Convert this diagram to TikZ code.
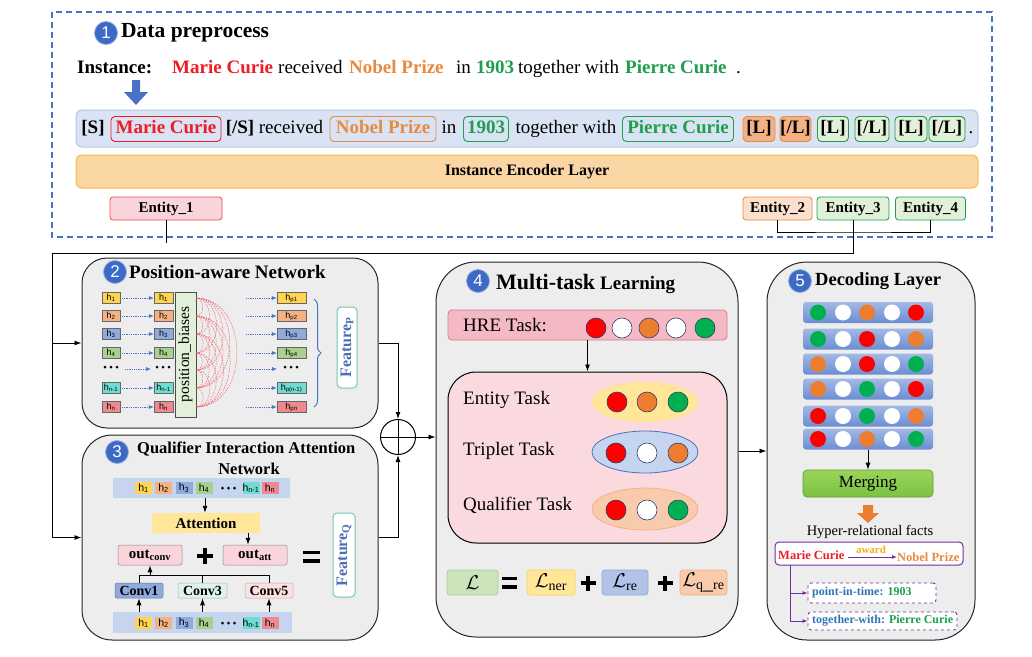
\RequirePackage{fix-cm}
\documentclass[tikz,border=0pt]{standalone}
\usepackage{fontspec}
\setmainfont{Liberation Serif}
\newfontfamily\hsans{Liberation Sans}
\usetikzlibrary{arrows.meta,decorations.pathreplacing,shapes.geometric,calc}

\definecolor{dashblue}{HTML}{4A72C4}
\definecolor{numblue}{HTML}{3D6AC4}
\definecolor{mred}{HTML}{EE1C25}
\definecolor{morange}{HTML}{E98A3F}
\definecolor{mgreen}{HTML}{1E9F4E}
\definecolor{rowbg}{HTML}{DAE3F3}
\definecolor{rowbd}{HTML}{B4C7E7}
\definecolor{encfill}{HTML}{FAD6A5}
\definecolor{encbd}{HTML}{F2BF4A}
\definecolor{boxgray}{HTML}{EDEDED}
\definecolor{cyel}{HTML}{FFD54F}
\definecolor{corg}{HTML}{F4B183}
\definecolor{cblu}{HTML}{8FAADC}
\definecolor{cgrn}{HTML}{A9D18E}
\definecolor{ctea}{HTML}{70DDD2}
\definecolor{cpnk}{HTML}{EE8A8E}
\definecolor{lgreen}{HTML}{E2F0D9}
\definecolor{lorange}{HTML}{F8CBAD}
\definecolor{lpink}{HTML}{F9D5DB}
\definecolor{lblue}{HTML}{C5D5EF}
\definecolor{lyellow}{HTML}{FFE699}
\definecolor{featbd}{HTML}{72C7AE}
\definecolor{featblue}{HTML}{4E6FB5}
\definecolor{dR}{HTML}{FF0000}
\definecolor{dO}{HTML}{ED7D31}
\definecolor{dG}{HTML}{00B050}
\definecolor{dnavy}{HTML}{2F3C6B}
\definecolor{mpurple}{HTML}{7030A0}
\definecolor{tblue}{HTML}{2E75B6}
\definecolor{mgold}{HTML}{F2B01E}
\definecolor{barL}{HTML}{A3B9E6}
\definecolor{barD}{HTML}{6A8DD2}
\definecolor{hrefill}{HTML}{F4B9C4}
\definecolor{hrebd}{HTML}{C87F8C}
\definecolor{innfill}{HTML}{FADADF}
\definecolor{cv3fill}{HTML}{DDF3EF}
\definecolor{cv5fill}{HTML}{FBE1E1}
\definecolor{mgL}{HTML}{9AD45A}
\definecolor{mgD}{HTML}{7CC242}

\tikzset{
  conn/.style={draw=black, line width=0.9pt},
  arr/.style={conn, -{Latex[length=7pt,width=5pt]}},
  numc/.style={circle, fill=numblue, draw=numblue!55!white, line width=0.8pt, minimum size=23pt, inner sep=0pt, text=white, font=\hsans\fontsize{17}{17}\selectfont},
  ttl/.style={anchor=west, inner sep=0pt, font=\bfseries\fontsize{19}{19}\selectfont},
  wrd/.style={inner sep=0pt, text height=13pt, text depth=4pt, font=\fontsize{19}{19}\selectfont},
  swrd/.style={anchor=base west, inner sep=0pt, font=\fontsize{19}{19}\selectfont},
  tok/.style={wrd, draw, rounded corners=4pt, line width=0.9pt, minimum height=25pt, font=\bfseries\fontsize{19}{19}\selectfont},
  ent/.style={draw, rounded corners=3pt, line width=0.8pt, minimum height=23pt, inner sep=0pt, font=\bfseries\fontsize{15}{15}\selectfont},
  bigbox/.style={draw=black!85, line width=1pt, fill=boxgray, inner sep=0pt},
  hc/.style={draw=black!60, line width=0.4pt, minimum height=11pt, inner sep=0pt, font=\hsans\fontsize{9}{9}\selectfont},
  dotarr/.style={draw=dashblue, line width=0.7pt, dash pattern=on 0.9pt off 0.9pt, -{Latex[length=5pt,width=4pt]}},
  arcst/.style={draw=mred!75, line width=0.4pt, dash pattern=on 1.5pt off 1pt},
  qc/.style={minimum height=12pt, minimum width=17pt, inner sep=0pt, font=\hsans\fontsize{10.5}{10.5}\selectfont},
  smbox/.style={draw=black!45, line width=0.5pt, rounded corners=2pt, inner sep=0pt, font=\bfseries\fontsize{15}{15}\selectfont},
  feat/.style={draw=featbd, line width=1pt, rounded corners=4pt, fill=white, inner sep=0pt},
  feattxt/.style={rotate=90, inner sep=0pt, text=featblue, font=\bfseries\fontsize{16}{16}\selectfont},
  mdot/.style={circle, draw=dnavy, line width=0.6pt, minimum size=20pt, inner sep=0pt},
  ddot/.style={circle, draw=none, minimum size=16pt, inner sep=0pt},
  taskt/.style={anchor=west, inner sep=0pt, font=\fontsize{19}{19}\selectfont},
  lossb/.style={rounded corners=3pt, line width=0.8pt, minimum height=25pt, inner sep=0pt, font=\fontsize{20}{20}\selectfont},
  heavy/.style={draw=black, line width=4pt},
  parr/.style={draw=mpurple, line width=0.9pt, -{Latex[length=5pt,width=4pt]}},
  decbar/.style={rounded corners=3pt, minimum width=130pt, minimum height=21pt, inner sep=0pt, top color=barL, bottom color=barD, draw=none},
}

\newcommand\decrow[7]{%
  \node[decbar] (r#1) at (868,#2) {};
  \node[ddot, fill=#3] (r#1a) at (818,#2) {};
  \node[ddot, fill=#4] (r#1b) at (843,#2) {};
  \node[ddot, fill=#5] (r#1c) at (867,#2) {};
  \node[ddot, fill=#6] (r#1d) at (892,#2) {};
  \node[ddot, fill=#7] (r#1e) at (916,#2) {};
}
\newcommand\tdots[2]{%
  \foreach \dx in {-6,0,6}{\fill[black] (#1+\dx,#2) circle[radius=1.5pt];}%
}

\begin{document}
\begin{tikzpicture}[x=1pt,y=-1pt]
\useasboundingbox (0,0) rectangle (1032,656);
\fill[white] (0,0) rectangle (1032,656);

% ---------------- Stage 1 ----------------
\draw[dashblue, line width=1.3pt, dash pattern=on 6pt off 4pt] (52,12) rectangle (992,237);
\node[numc] (n1) at (106,33) {1};
\node[ttl, font=\bfseries\fontsize{21.5}{21.5}\selectfont] (t1) at (121,33) {Data preprocess};

\node[swrd, font=\bfseries\fontsize{19}{19}\selectfont] (ins) at (77,73) {Instance:};
\node[swrd, font=\bfseries\fontsize{19}{19}\selectfont, text=mred] (s1) at (172,73) {Marie Curie};
\node[swrd] (s2) at (278,73) {received};
\node[swrd, font=\bfseries\fontsize{19}{19}\selectfont, text=morange] (s3) at (349,73) {Nobel Prize};
\node[swrd] (s4) at (456,73) {in};
\node[swrd, font=\bfseries\fontsize{19}{19}\selectfont, text=mgreen] (s5) at (476,73) {1903};
\node[swrd] (s6) at (518,73) {together with};
\node[swrd, font=\bfseries\fontsize{19}{19}\selectfont, text=mgreen] (s7) at (625,73) {Pierre Curie};
\node[swrd] (s8) at (736,73) {.};

\fill[dashblue] (132,80) -- (140,80) -- (140,92) -- (148,92) -- (136,105) -- (124,92) -- (132,92) -- cycle;

\node[draw=rowbd, fill=rowbg, line width=1pt, rounded corners=6pt, minimum width=902pt, minimum height=37pt, inner sep=0pt] (row) at (527,128.5) {};
\node[wrd, font=\bfseries\fontsize{19}{19}\selectfont] (k1) at (93,129) {[S]};
\node[tok, draw=mred, text=mred, minimum width=110pt] (k2) at (166,129) {Marie Curie};
\node[wrd, font=\bfseries\fontsize{19}{19}\selectfont] (k3) at (240,129) {[/S]};
\node[wrd] (k4) at (291,129) {received};
\node[tok, draw=morange, text=morange, minimum width=106pt] (k5) at (383,129) {Nobel Prize};
\node[wrd] (k6) at (449,129) {in};
\node[tok, draw=mgreen, text=mgreen, minimum width=45pt] (k7) at (486,129) {1903};
\node[wrd] (k8) at (566,129) {together with};
\node[tok, draw=mgreen, text=mgreen, minimum width=111pt] (k9) at (678,129) {Pierre Curie};
\node[tok, draw=morange, fill=corg, minimum width=32pt] (k10) at (759,129) {[L]};
\node[tok, draw=morange, fill=corg, minimum width=31pt] (k11) at (795.5,129) {[/L]};
\node[tok, draw=mgreen, fill=lgreen, minimum width=31pt] (k12) at (833,129) {[L]};
\node[tok, draw=mgreen, fill=lgreen, minimum width=34pt] (k13) at (872,129) {[/L]};
\node[tok, draw=mgreen, fill=lgreen, minimum width=32pt] (k14) at (911,129) {[L]};
\node[tok, draw=mgreen, fill=lgreen, minimum width=36pt] (k15) at (947,129) {[/L]};
\node[wrd] (k16) at (971,129) {.};

\node[draw=encbd, fill=encfill, line width=1pt, rounded corners=6pt, minimum width=902pt, minimum height=33pt, inner sep=0pt, font=\bfseries\fontsize{16}{16}\selectfont] (enc) at (527,171.5) {Instance Encoder Layer};

\node[ent, fill=lpink, draw=mred!80, minimum width=112pt] (e1) at (166,208.5) {Entity\_1};
\node[ent, fill=lorange!60, draw=morange, minimum width=69pt] (e2) at (777.5,208.5) {Entity\_2};
\node[ent, fill=lgreen, draw=mgreen, minimum width=72pt] (e3) at (853,208.5) {Entity\_3};
\node[ent, fill=lgreen, draw=mgreen, minimum width=70pt] (e4) at (930.5,208.5) {Entity\_4};

\coordinate (e1end) at (166,243);
\coordinate (brk) at (853,232);
\coordinate (tl) at (52,253);
\draw[conn] (e1.south) -- (e1end);
\draw[conn] (e2.south) |- (brk) -| (e4.south);

% ---------------- big boxes ----------------
\node[bigbox, rounded corners=25pt, minimum width=296pt, minimum height=170pt] (b2) at (230,343) {};
\node[bigbox, rounded corners=30pt, minimum width=296pt, minimum height=205pt] (b3) at (230,537.5) {};
\node[bigbox, rounded corners=40pt, minimum width=302pt, minimum height=375pt] (b4) at (587,449.5) {};
\node[bigbox, rounded corners=40pt, minimum width=208pt, minimum height=378pt] (b5) at (871,451) {};

\draw[conn] (e3.south) -- (e3.south |- tl) -- (tl) -- (tl |- b3.west);
\draw[arr] (tl |- b2.west) -- (b2.west);
\draw[arr] (tl |- b3.west) -- (b3.west);

\node[circle, draw=black, line width=1pt, minimum size=35pt, inner sep=0pt] (op) at (398,437) {};
\draw[conn] (op.north) -- (op.south);
\draw[conn] (op.west) -- (op.east);
\draw[arr] (b2.east) -| (op.north);
\draw[arr] (b3.east) -| (op.south);
\draw[arr] (op.east) -- (op.east -| b4.west);
\draw[arr] (b4.east |- b5.west) -- (b5.west);

% ---------------- Stage 2 ----------------
\node[numc] (n2) at (115,272) {2};
\node[ttl] (t2) at (129,272) {Position-aware Network};

\node[draw=black!70, line width=0.5pt, fill=lgreen, minimum width=21pt, minimum height=125pt, inner sep=0pt] (pb) at (185.5,354.5) {};
\node[rotate=90, inner sep=0pt, font=\fontsize{15.5}{15.5}\selectfont] (pbt) at (pb.center) {position\_biases};

\foreach \ya [count=\i] in {298,316,334,353,370,388,407}{
  \foreach \yb [count=\j] in {298,316,334,353,370,388,407}{
    \ifnum\j>\i
      \pgfmathsetmacro\dd{0.5*(\yb-\ya)}
      \draw[arcst] (196,\ya) .. controls +(\dd,0) and +(\dd,0) .. (196,\yb);
    \fi
  }
}

\foreach \yy/\col/\lab/\labp [count=\i] in {298/cyel/1/p1, 316/corg/2/p2, 334/cblu/3/p3, 353/cgrn/4/p4, 388/ctea/{n-1}/{p(n-1)}, 407/cpnk/n/pn}{
  \node[hc, fill=\col, minimum width=18pt] (a\i) at (111,\yy) {h\textsubscript{\lab}};
  \node[hc, fill=\col, minimum width=19pt] (bb\i) at (163.5,\yy) {h\textsubscript{\lab}};
  \node[hc, fill=\col, minimum width=29pt] (c\i) at (291.5,\yy) {h\textsubscript{\labp}};
  \draw[dotarr] (a\i.east) -- (bb\i.west);
  \coordinate (s\i) at (246,\yy);
  \draw[dotarr] (s\i) -- (c\i.west);
}
\tdots{111}{367}
\tdots{163}{367}
\tdots{291}{367}
\coordinate (d1e) at (125,369);
\coordinate (d2w) at (151,369);
\coordinate (d3s) at (246,369);
\coordinate (d3w) at (277,369);
\draw[dotarr] (d1e) -- (d2w);
\draw[dotarr] (d3s) -- (d3w);

\draw[dashblue, line width=1pt, decorate, decoration={brace, amplitude=7pt}] (314,299) -- (314,407);
\node[feat, minimum width=20pt, minimum height=81pt] (fp) at (347,347.5) {};
\node[feattxt] (fpt) at (fp.center) {Feature\textsubscript{P}};

% ---------------- Stage 3 ----------------
\node[numc] (n3) at (117,452) {3};
\node[ttl, font=\bfseries\fontsize{16.5}{16.5}\selectfont] (t3) at (137,449) {Qualifier Interaction Attention};
\node[inner sep=0pt, font=\bfseries\fontsize{16.5}{16.5}\selectfont] (t3b) at (249,469) {Network};

\node[fill=lblue, minimum width=177pt, minimum height=20pt, inner sep=0pt] (qtop) at (201.5,488) {};
\node[fill=lblue, minimum width=179pt, minimum height=21pt, inner sep=0pt] (qbot) at (202,622.5) {};
\foreach \xx/\col/\lab [count=\i] in {143.5/cyel/1,163.5/corg/2,184/cblu/3,204/cgrn/4,251/ctea/{n-1},270/cpnk/n}{
  \node[qc, fill=\col] (qa\i) at (\xx,488) {h\textsubscript{\lab}};
  \node[qc, fill=\col] (qb\i) at (\xx,623) {h\textsubscript{\lab}};
}
\tdots{228.5}{488}
\tdots{228.5}{623}

\node[fill=lyellow, minimum width=108pt, minimum height=20pt, inner sep=0pt, font=\bfseries\fontsize{15}{15}\selectfont] (att) at (206,523) {Attention};
\coordinate (qx) at (205,0);
\draw[arr] (qtop.south -| qx) -- (att.north -| qx);
\node[smbox, fill=lpink, minimum width=64pt, minimum height=20pt] (oc) at (150,555) {out\textsubscript{conv}};
\node[smbox, fill=lpink, minimum width=64pt, minimum height=20pt] (oa) at (255,555) {out\textsubscript{att}};
\coordinate (attx) at (248,533);
\draw[arr] (attx) -- (attx |- oa.north);
\draw[heavy] (197,556) -- (213,556);
\draw[heavy] (205,548) -- (205,564);
\draw[draw=black, line width=3.3pt] (303,552.5) -- (320,552.5);
\draw[draw=black, line width=3.3pt] (303,561) -- (320,561);
\node[feat, minimum width=22pt, minimum height=84pt] (fq) at (344,555) {};
\node[feattxt] (fqt) at (fq.center) {Feature\textsubscript{Q}};

\node[smbox, fill=cblu, draw=cblu!70!black, minimum width=48pt, minimum height=15pt, font=\bfseries\fontsize{14}{14}\selectfont] (cv1) at (139,590.5) {Conv1};
\node[smbox, fill=cv3fill, draw=black!30, minimum width=49pt, minimum height=15pt, font=\bfseries\fontsize{14}{14}\selectfont] (cv3) at (202.5,590.5) {Conv3};
\node[smbox, fill=cv5fill, draw=black!30, minimum width=48pt, minimum height=15pt, font=\bfseries\fontsize{14}{14}\selectfont] (cv5) at (269,590.5) {Conv5};
\coordinate (qbus) at (0,575);
\draw[conn] (cv1.north) -- (cv1.north |- qbus) -- (cv5.north |- qbus) -- (cv5.north);
\draw[conn] (cv3.north) -- (cv3.north |- qbus);
\draw[arr] (oc.south |- qbus) -- (oc.south);
\draw[arr] (qbot.north -| cv1.south) -- (cv1.south);
\draw[arr] (qbot.north -| cv3.south) -- (cv3.south);
\draw[arr] (qbot.north -| cv5.south) -- (cv5.south);

% ---------------- Stage 4 ----------------
\node[numc] (n4) at (478,281) {4};
\node[anchor=base west, inner sep=0pt, font=\bfseries] (t4) at (496,289) {{\fontsize{22}{22}\selectfont Multi-task}\hspace{5pt}{\fontsize{19}{19}\selectfont Learning}};

\node[draw=hrebd, fill=hrefill, line width=0.8pt, rounded corners=4pt, minimum width=279pt, minimum height=30pt, inner sep=0pt] (hre) at (587.5,325) {};
\node[taskt] (hret) at (463,325) {HRE Task:};
\node[mdot, fill=dR] (h1) at (596,328) {};
\node[mdot, fill=white] (h2) at (622,328) {};
\node[mdot, fill=dO] (h3) at (649,328) {};
\node[mdot, fill=white] (h4) at (676,328) {};
\node[mdot, fill=dG] (h5) at (705,328) {};

\node[draw=black, fill=innfill, line width=1pt, rounded corners=28pt, minimum width=279pt, minimum height=171pt, inner sep=0pt] (inn) at (587.5,457.5) {};
\draw[arr] (hre.south) -- (hre.south |- inn.north);

\node[taskt] (tk1) at (463,400) {Entity Task};
\node[ellipse, fill=lyellow, minimum width=106pt, minimum height=40pt, inner sep=0pt] (el1) at (645,402) {};
\node[mdot, fill=dR] (el1a) at (617,402) {};
\node[mdot, fill=dO] (el1b) at (647,402) {};
\node[mdot, fill=dG] (el1c) at (678,402) {};

\node[taskt] (tk2) at (463,451) {Triplet Task};
\node[ellipse, fill=lblue, draw=dashblue, line width=0.8pt, minimum width=106pt, minimum height=42pt, inner sep=0pt] (el2) at (645,452) {};
\node[mdot, fill=dR] (el2a) at (616,453) {};
\node[mdot, fill=white] (el2b) at (647,453) {};
\node[mdot, fill=dO] (el2c) at (678,453) {};

\node[taskt] (tk3) at (463,505) {Qualifier Task};
\node[ellipse, fill=lorange, draw=corg, line width=0.8pt, minimum width=106pt, minimum height=42pt, inner sep=0pt] (el3) at (645,509) {};
\node[mdot, fill=dR] (el3a) at (616,510) {};
\node[mdot, fill=white] (el3b) at (647,510) {};
\node[mdot, fill=dG] (el3c) at (678,510) {};

\node[lossb, fill=cgrn!60, draw=cgrn, minimum width=51pt] (l0) at (472.5,582.5) {$\mathcal{L}$};
\draw[draw=black, line width=3.3pt] (502,578.5) -- (517,578.5);
\draw[draw=black, line width=3.3pt] (502,587) -- (517,587);
\node[lossb, fill=lyellow, draw=cyel, minimum width=48pt] (l1) at (551,582.5) {$\mathcal{L}_{\mathrm{ner}}$};
\draw[heavy] (580.5,583) -- (595.5,583);
\draw[heavy] (588,575.5) -- (588,590.5);
\node[lossb, fill=cblu!70, draw=cblu, minimum width=46pt] (l2) at (625,582.5) {$\mathcal{L}_{\mathrm{re}}$};
\draw[heavy] (657.5,583) -- (672.5,583);
\draw[heavy] (665,575.5) -- (665,590.5);
\node[lossb, fill=lorange, draw=corg, minimum width=47pt] (l3) at (703.5,582.5) {$\mathcal{L}_{\mathrm{q\_re}}$};

% ---------------- Stage 5 ----------------
\node[numc] (n5) at (800,281) {5};
\node[ttl, font=\bfseries\fontsize{18.5}{18.5}\selectfont] (t5) at (815,281) {Decoding Layer};

\decrow{1}{312.5}{dG}{white}{dO}{white}{dR}
\decrow{2}{339}{dG}{white}{dR}{white}{dO}
\decrow{3}{364}{dO}{white}{dR}{white}{dG}
\decrow{4}{389}{dO}{white}{dG}{white}{dR}
\decrow{5}{416}{dR}{white}{dG}{white}{dO}
\decrow{6}{439}{dR}{white}{dO}{white}{dG}

\node[top color=mgL, bottom color=mgD, draw=mgD!80!black, line width=0.6pt, rounded corners=4pt, minimum width=130pt, minimum height=27pt, inner sep=0pt, font=\fontsize{17}{17}\selectfont] (mg) at (868,483.5) {Merging};
\draw[arr] (r6.south) -- (r6.south |- mg.north);
\fill[dO] (863,505) -- (873,505) -- (873,513) -- (879,513) -- (868,523) -- (857,513) -- (863,513) -- cycle;
\node[inner sep=0pt, font=\fontsize{14.5}{14.5}\selectfont] (hrf) at (870,532) {Hyper-relational facts};

\node[draw=mpurple, fill=white, line width=1pt, rounded corners=4pt, minimum width=188pt, minimum height=23pt, inner sep=0pt] (hb) at (869,553.5) {};
\node[anchor=west, inner sep=0pt, text=mred, font=\bfseries\fontsize{12.5}{12.5}\selectfont] (hm) at (778,555) {Marie Curie};
\node[anchor=west, inner sep=0pt, text=morange, font=\bfseries\fontsize{12.5}{12.5}\selectfont] (hn) at (897,557) {Nobel Prize};
\coordinate (aws) at (848,557);
\draw[parr] (aws) -- (hn.west);
\node[inner sep=0pt, text=mgold, font=\bfseries\fontsize{11}{11}\selectfont] (aw) at (871,550) {award};

\node[draw=mpurple, dashed, fill=white, line width=0.9pt, rounded corners=3pt, minimum width=128pt, minimum height=20pt, inner sep=0pt] (p1) at (872,593) {};
\node[anchor=west, inner sep=0pt, font=\bfseries\fontsize{12}{12}\selectfont] (p1t) at (812,593) {\textcolor{tblue}{point-in-time:} \textcolor{mgreen}{1903}};
\node[draw=mpurple, dashed, fill=white, line width=0.9pt, rounded corners=3pt, minimum width=149pt, minimum height=18pt, inner sep=0pt] (p2) at (882.5,621) {};
\node[anchor=west, inner sep=0pt, font=\bfseries\fontsize{12}{12}\selectfont] (p2t) at (812,621) {\textcolor{tblue}{together-with:} \textcolor{mgreen}{Pierre Curie}};
\coordinate (pv) at (790,565);
\draw[parr] (pv) |- (p2.west);
\draw[parr] (pv |- p1.west) -- (p1.west);

\end{tikzpicture}
\end{document}
